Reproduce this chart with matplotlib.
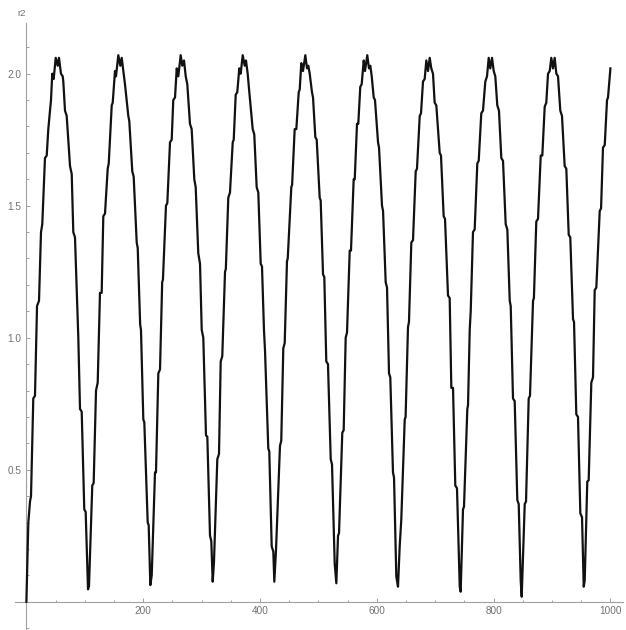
import matplotlib
matplotlib.use("Agg")
import matplotlib.pyplot as plt
from matplotlib.ticker import FixedLocator, MultipleLocator, FixedFormatter

# values (vertices of the curve)
t = [0.0, 3.3, 6.2, 7.9, 11.8, 14.7, 18.2, 21.6, 25.0, 27.2, 31.8, 34.8, 37.5, 42.1, 44.3, 46.7,
     50.2, 53.6, 55.8, 59.2, 62.2, 63.2, 66.1, 69.0, 74.7, 77.6, 80.3, 83.2, 88.9, 91.8, 94.7,
     99.1, 101.5, 105.5, 107.2, 112.8, 115.2, 119.2, 122.1, 126.0, 128.9, 131.7, 134.6, 139.2,
     141.0, 146.1, 147.8, 151.7, 153.4, 157.4, 160.8, 163.2, 166.6, 168.8, 174.5, 176.2, 181.3,
     183.7, 188.9, 190.6, 194.8, 196.2, 200.2, 201.9, 207.7, 209.4, 212.2, 214.6, 220.2, 221.9,
     225.9, 228.8, 232.5, 233.8, 239.0, 241.3, 245.9, 248.8, 251.5, 254.5, 257.4, 260.1, 264.2,
     266.9, 269.9, 272.8, 275.5, 280.1, 283.0, 287.5, 289.9, 294.3, 297.3, 300.2, 302.9, 307.5,
     309.8, 314.4, 316.6, 319.0, 321.2, 326.9, 329.8, 332.7, 335.4, 340.1, 341.5, 345.7, 348.6,
     353.3, 355.0, 358.4, 361.1, 364.5, 366.9, 370.4, 373.8, 376.0, 378.9, 381.7, 387.5, 390.2,
     394.3, 397.1, 401.2, 403.4, 406.8, 408.6, 414.2, 415.9, 420.0, 422.8, 424.5, 427.4, 434.2,
     436.4, 439.9, 442.3, 446.2, 447.5, 453.6, 455.0, 459.4, 462.2, 466.3, 468.0, 470.7, 473.6,
     477.6, 480.5, 482.7, 485.1, 489.0, 490.8, 494.7, 497.1, 502.2, 503.9, 507.9, 510.1, 513.5,
     516.4, 521.1, 523.3, 527.9, 530.7, 533.6, 535.3, 540.9, 543.3, 546.7, 549.0, 553.6, 555.8,
     560.4, 562.2, 566.1, 568.3, 571.7, 574.1, 577.6, 579.8, 583.7, 586.6, 588.9, 591.3, 594.7,
     596.9, 602.1, 603.8, 608.9, 610.7, 615.2, 617.5, 620.9, 623.1, 627.7, 629.5, 633.4, 636.3,
     639.2, 641.9, 647.8, 649.3, 653.4, 655.1, 659.1, 662.0, 666.6, 668.8, 673.5, 675.7, 679.1,
     682.0, 684.8, 687.7, 690.6, 693.3, 696.2, 699.1, 701.9, 707.7, 709.9, 714.5, 716.8, 721.9,
     724.8, 727.6, 730.5, 734.4, 737.3, 742.0, 743.6, 747.6, 749.3, 755.0, 756.2, 759.1, 760.8,
     764.7, 767.6, 772.1, 774.5, 778.9, 781.8, 785.8, 788.7, 791.6, 794.3, 797.3, 800.2, 802.9,
     806.3, 809.2, 813.2, 816.1, 820.7, 823.5, 827.6, 829.3, 833.2, 836.1, 840.6, 843.0, 846.4,
     848.1, 853.3, 855.5, 860.1, 862.3, 867.5, 869.0, 873.1, 876.0, 880.7, 883.4, 887.5, 890.2,
     893.2, 896.1, 898.8, 901.7, 904.6, 907.4, 910.3, 914.2, 917.1, 921.7, 924.5, 928.6, 931.3,
     936.0, 937.7, 941.6, 944.5, 948.5, 951.4, 954.3, 956.0, 960.4, 962.8, 967.3, 970.2, 973.1,
     975.9, 981.7, 984.0, 987.3, 990.3, 994.2, 995.9, 1000.0]

r2 = [0.0, 0.30, 0.38, 0.40, 0.77, 0.78, 1.12, 1.14, 1.40, 1.43, 1.68, 1.69, 1.79, 1.90, 2.00, 1.98,
      2.06, 2.03, 2.06, 2.00, 1.99, 1.97, 1.86, 1.84, 1.65, 1.62, 1.40, 1.38, 1.00, 0.73, 0.72,
      0.35, 0.34, 0.047, 0.06, 0.44, 0.45, 0.80, 0.83, 1.17, 1.17, 1.46, 1.47, 1.64,
      1.66, 1.88, 1.89, 2.01, 1.99, 2.07, 2.03, 2.06, 2.00, 1.96, 1.84, 1.82, 1.63,
      1.61, 1.36, 1.34, 1.05, 1.03, 0.69, 0.68, 0.30, 0.29, 0.063, 0.10, 0.49, 0.49,
      0.865, 0.88, 1.21, 1.22, 1.50, 1.51, 1.74, 1.75, 1.90, 1.91, 2.02, 1.99, 2.07,
      2.03, 2.05, 1.99, 1.96, 1.81, 1.79, 1.60, 1.57, 1.32, 1.28, 1.03, 1.00, 0.63,
      0.625, 0.25, 0.23, 0.076, 0.15, 0.54, 0.56, 0.91, 0.93, 1.25, 1.26, 1.53, 1.55,
      1.74, 1.75, 1.92, 1.93, 2.02, 2.00, 2.07, 2.03, 2.05, 2.00, 1.93, 1.79, 1.77,
      1.57, 1.55, 1.28, 1.27, 1.03, 0.95, 0.58, 0.57, 0.21, 0.19, 0.076, 0.196, 0.59,
      0.61, 0.96, 0.98, 1.29, 1.30, 1.57, 1.58, 1.79, 1.79, 1.93, 1.94, 2.04, 2.01,
      2.07, 2.02, 2.03, 2.00, 1.93, 1.91, 1.76, 1.75, 1.53, 1.52, 1.24, 1.23, 0.91,
      0.90, 0.54, 0.52, 0.145, 0.07, 0.25, 0.26, 0.64, 0.65, 1.00, 1.02, 1.33, 1.33,
      1.60, 1.60, 1.81, 1.81, 1.95, 1.96, 2.05, 2.01, 2.07, 2.02, 2.03, 1.99, 1.91,
      1.90, 1.74, 1.72, 1.50, 1.48, 1.21, 1.19, 0.865, 0.85, 0.49, 0.47, 0.095, 0.057,
      0.21, 0.31, 0.69, 0.70, 1.04, 1.06, 1.36, 1.37, 1.63, 1.64, 1.84, 1.85, 1.97,
      1.98, 2.05, 2.01, 2.06, 2.02, 2.00, 1.89, 1.88, 1.70, 1.69, 1.46, 1.45, 1.16,
      1.15, 0.81, 0.81, 0.44, 0.43, 0.057, 0.038, 0.35, 0.36, 0.73, 0.745, 1.03, 1.10,
      1.40, 1.41, 1.66, 1.67, 1.85, 1.86, 1.97, 1.99, 2.06, 2.02, 2.06, 2.01, 1.99,
      1.88, 1.86, 1.68, 1.67, 1.43, 1.41, 1.14, 1.12, 0.77, 0.76, 0.385, 0.37, 0.08,
      0.019, 0.37, 0.38, 0.77, 0.78, 1.14, 1.15, 1.44, 1.45, 1.69, 1.69, 1.875, 1.89,
      2.00, 2.01, 2.06, 2.02, 2.06, 2.00, 1.99, 1.86, 1.84, 1.65, 1.64, 1.39, 1.38,
      1.07, 1.06, 0.71, 0.70, 0.335, 0.32, 0.057, 0.08, 0.455, 0.46, 0.83, 0.85, 1.18,
      1.19, 1.48, 1.49, 1.72, 1.73, 1.90, 1.91, 2.02]

x_major = [200, 400, 600, 800, 1000]
x_labels = ["200", "400", "600", "800", "1000"]
y_major = [0.5, 1.0, 1.5, 2.0]
y_labels = ["0.5", "1.0", "1.5", "2.0"]
y_minor = [-0.1, 0.1, 0.2, 0.3, 0.4, 0.6, 0.7, 0.8, 0.9, 1.1, 1.2, 1.3, 1.4, 1.6, 1.7,
           1.8, 1.9, 2.1]
axis_label = "r2"

plt.rcParams['font.family'] = ['Liberation Sans', 'DejaVu Sans']

fig = plt.figure(figsize=(6.26, 6.30), dpi=100)
ax = fig.add_axes([0, 0, 1, 1])
ax.set_xlim(-45.2, 1026.7)
ax.set_ylim(-0.107, 2.279)

ax.plot(t, r2, color='#111111', lw=1.6, solid_joinstyle='round', zorder=3)

axis_col = '#a0a0a0'
label_col = '#707070'
for s in ['top', 'right']:
    ax.spines[s].set_visible(False)
ax.spines['left'].set_position(('data', 0))
ax.spines['bottom'].set_position(('data', 0))
ax.spines['left'].set_bounds(-0.105, 2.19)
ax.spines['bottom'].set_bounds(-19.5, 1021)
for s in ['left', 'bottom']:
    ax.spines[s].set_color(axis_col)
    ax.spines[s].set_linewidth(0.8)

ax.xaxis.set_major_locator(FixedLocator(x_major))
ax.xaxis.set_major_formatter(FixedFormatter(x_labels))
ax.xaxis.set_minor_locator(MultipleLocator(50))
ax.yaxis.set_major_locator(FixedLocator(y_major))
ax.yaxis.set_major_formatter(FixedFormatter(y_labels))
ax.yaxis.set_minor_locator(FixedLocator(y_minor))

ax.tick_params(which='both', direction='in', color=axis_col, width=0.7,
               labelcolor=label_col, labelsize=7.2)
ax.tick_params(which='major', length=3.0)
ax.tick_params(which='minor', length=1.8)
ax.tick_params(axis='x', which='major', pad=3.0)
ax.tick_params(axis='y', which='major', pad=3.6)

ax.text(21.5 / 626, 1 - 14 / 630, axis_label, transform=ax.transAxes,
        ha='center', va='center', fontsize=6.8, color=label_col)

fig.savefig("out.png", dpi=100)
